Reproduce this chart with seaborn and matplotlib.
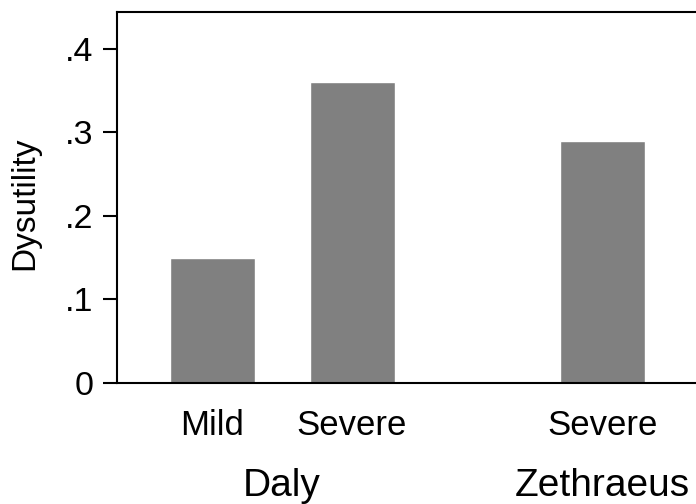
import matplotlib.pyplot as plt
import matplotlib.transforms as mtransforms
import seaborn as sns
import pandas as pd

sns.set_theme(style="white")
plt.rcParams["font.family"] = ["Liberation Sans", "DejaVu Sans"]

# data
groups = ["Daly", "Daly", "Zethraeus"]
levels = ["Mild", "Severe", "Severe"]
dysutility = [0.15, 0.36, 0.29]

# bar positions: one unit per bar, extra gap between groups
group_gap = 1.79
pos = []
x = 0.0
for i, g in enumerate(groups):
    if i > 0:
        x += 1 if g == groups[i - 1] else group_gap
    pos.append(x)

df = pd.DataFrame({"group": groups, "level": levels,
                   "value": dysutility, "pos": pos})

fig = plt.figure(figsize=(6.96, 5.04), dpi=100)
ax = fig.add_axes([117 / 696, 1 - 383 / 504, 1 - 117 / 696, (383 - 12) / 504])

sns.barplot(data=df, x="pos", y="value", native_scale=True,
            color="#808080", saturation=1, width=0.607, ax=ax)

ax.set_xlim(-0.679, 3.457)
ax.set_ylim(0, 0.444)
ax.set_yticks([0, 0.1, 0.2, 0.3, 0.4])
ax.set_yticklabels(["0", ".1", ".2", ".3", ".4"])
ax.set_xticks(df["pos"])
ax.set_xticklabels(df["level"])
ax.tick_params(axis="y", direction="out", length=10, width=1.5,
               labelsize=24.5, pad=7, left=True, colors="black")
ax.tick_params(axis="x", length=0, labelsize=25, pad=19, colors="black")
ax.set_xlabel("")
ax.set_ylabel("Dysutility", fontsize=24, color="black")
ax.yaxis.set_label_coords(-0.133, 0.485)

for side in ["left", "bottom", "top"]:
    ax.spines[side].set_visible(True)
    ax.spines[side].set_color("black")
    ax.spines[side].set_linewidth(1.5)
ax.spines["right"].set_visible(False)

# group labels under the bars
trans = mtransforms.blended_transform_factory(ax.transData, ax.transAxes)
for g, sub in df.groupby("group"):
    ax.text(sub["pos"].mean(), -0.305, g, transform=trans,
            ha="center", va="baseline", fontsize=28, color="black")

fig.savefig("out.png", dpi=100)
